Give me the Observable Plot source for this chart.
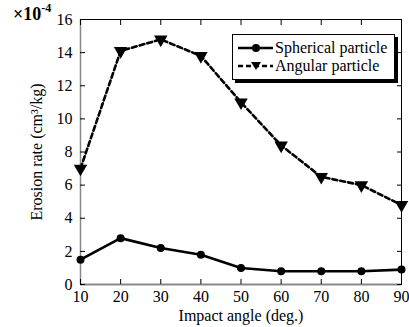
<!DOCTYPE html>
<html><head><meta charset="utf-8">
<script src="https://cdn.jsdelivr.net/npm/d3@7"></script>
<script src="https://cdn.jsdelivr.net/npm/@observablehq/plot@0.6"></script>
<style>
body{margin:0;background:#fff;}
#wrap{position:relative;width:409px;height:327px;font-family:"Liberation Serif","Times New Roman",serif;}
#wrap svg text{font-family:"Liberation Serif","Times New Roman",serif !important;}
#legend{position:absolute;left:232px;top:34px;width:161px;height:44px;border:1px solid #000;background:#fff;box-shadow:3px 3px 0 #000;font-size:16px;}
.row{position:absolute;left:4px;height:18px;display:flex;align-items:center;white-space:nowrap;}
#mult{position:absolute;left:13px;top:5px;font-size:18px;line-height:18px;font-weight:bold;white-space:nowrap;}
#mult sup{font-size:12px;vertical-align:baseline;position:relative;top:-8px;}
</style></head>
<body><div id="wrap"></div>
<script>
const angles = [10, 20, 30, 40, 50, 60, 70, 80, 90];
const spherical = [1.5, 2.8, 2.2, 1.8, 1.0, 0.8, 0.8, 0.8, 0.9];
const angular = [7.0, 14.1, 14.8, 13.8, 11.0, 8.4, 6.5, 6.0, 4.8];
const xTicks = [10, 20, 30, 40, 50, 60, 70, 80, 90];
const yTicks = [0, 2, 4, 6, 8, 10, 12, 14, 16];
const seriesNames = ["Spherical particle", "Angular particle"];

const sph = angles.map((a, i) => ({angle: a, rate: spherical[i]}));
const ang = angles.map((a, i) => ({angle: a, rate: angular[i]}));
const FF = '"Liberation Serif","Times New Roman",serif';

const chart = Plot.plot({
  width: 409, height: 327,
  marginLeft: 80, marginRight: 8, marginTop: 19, marginBottom: 43,
  style: {fontFamily: FF, fontSize: "16px", color: "#000", background: "#fff"},
  x: {domain: [10, 90]},
  y: {domain: [0, 16]},
  marks: [
    Plot.ruleY([0], {stroke: "#888", strokeWidth: 2}),
    Plot.ruleX([10], {stroke: "#888", strokeWidth: 1.5}),
    Plot.ruleY([16], {stroke: "#000", strokeWidth: 1}),
    Plot.ruleX([90], {stroke: "#000", strokeWidth: 1}),
    Plot.axisX(xTicks, {anchor: "bottom", tickSize: 5, dy: -5, text: null, label: null, stroke: "#000"}),
    Plot.axisX(xTicks, {anchor: "top", tickSize: 5, dy: 5, text: null, label: null, stroke: "#000"}),
    Plot.axisY(yTicks, {anchor: "left", tickSize: 5, dx: 5, text: null, label: null, stroke: "#000"}),
    Plot.axisY(yTicks, {anchor: "right", tickSize: 5, dx: -5, text: null, label: null, stroke: "#000"}),
    Plot.axisX(xTicks, {anchor: "bottom", tickSize: 0, tickPadding: 6, label: "Impact angle (deg.)", labelAnchor: "center", labelOffset: 36, labelArrow: "none", fontSize: 16, fontFamily: FF}),
    Plot.axisY(yTicks, {anchor: "left", tickSize: 0, tickPadding: 8, label: "Erosion rate (cm³/kg)", labelAnchor: "center", labelOffset: 50, labelArrow: "none", fontSize: 16, fontFamily: FF}),
    Plot.line(ang, {x: "angle", y: "rate", stroke: "#000", strokeWidth: 2.6, strokeDasharray: "5,3"}),
    Plot.dot(ang, {x: "angle", y: "rate", symbol: "triangle", fill: "#000", r: 5, rotate: 180}),
    Plot.line(sph, {x: "angle", y: "rate", stroke: "#000", strokeWidth: 2.6}),
    Plot.dot(sph, {x: "angle", y: "rate", fill: "#000", r: 4})
  ]
});
const wrap = document.getElementById("wrap");
wrap.appendChild(chart);

const mult = document.createElement("div");
mult.id = "mult";
mult.innerHTML = "×10<sup>-4</sup>";
wrap.appendChild(mult);

const leg = document.createElement("div");
leg.id = "legend";
const sw = (dash, marker) => `<svg width="37" height="12" style="margin-right:1px"><line x1="1" y1="6" x2="36" y2="6" stroke="#000" stroke-width="2.6" ${dash ? 'stroke-dasharray="5,3"' : ''}/>${marker}</svg>`;
leg.innerHTML =
  `<div class="row" style="top:4px">${sw(false, '<circle cx="19" cy="6" r="4" fill="#000"/>')}<span>${seriesNames[0]}</span></div>` +
  `<div class="row" style="top:22px">${sw(true, '<path d="M14,2 L24,2 L19,10 Z" fill="#000"/>')}<span>${seriesNames[1]}</span></div>`;
wrap.appendChild(leg);
</script></body></html>
